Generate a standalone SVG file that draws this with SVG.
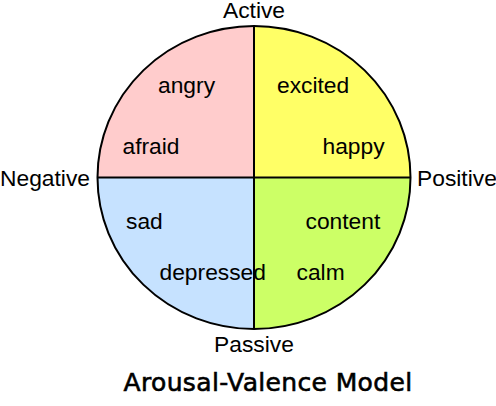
<svg xmlns="http://www.w3.org/2000/svg" width="496" height="406" viewBox="0 0 496 406">
<style>
.q{stroke:none}
.lbl{font-family:"Liberation Sans",Arial,sans-serif;font-size:22.8px;fill:#000}
.mid{text-anchor:middle}
.title{font-family:"DejaVu Sans",sans-serif;font-size:25px;fill:#000;stroke:#000;stroke-width:0.6;letter-spacing:0.35px}
.ax{stroke:#000;stroke-width:2;fill:none}
</style>
<rect width="496" height="406" fill="#fff"/>
<g id="quadrants">
<path id="q-angry" class="q" fill="#FFCCCC" d="M254,177.5 V26 A156.5,151.5 0 0 0 97.5,177.5 Z"/>
<path id="q-excited" class="q" fill="#FFFF66" d="M254,177.5 V26 A156.5,151.5 0 0 1 410.5,177.5 Z"/>
<path id="q-sad" class="q" fill="#C6E2FF" d="M254,177.5 H97.5 A156.5,151.5 0 0 0 254,329 Z"/>
<path id="q-content" class="q" fill="#CCFF66" d="M254,177.5 H410.5 A156.5,151.5 0 0 1 254,329 Z"/>
</g>
<g id="connectors">
<ellipse class="ax" cx="254" cy="177.5" rx="156.5" ry="151.5"/>
<line class="ax" x1="254" y1="26" x2="254" y2="329"/>
<line class="ax" x1="97.5" y1="177.5" x2="410.5" y2="177.5"/>
</g>
<g id="axis-labels">
<g id="active"><text class="lbl mid" x="254" y="17.5">Active</text></g>
<g id="passive"><text class="lbl mid" x="254" y="352">Passive</text></g>
<g id="negative"><text class="lbl" x="0" y="186">Negative</text></g>
<g id="positive"><text class="lbl" x="417" y="186">Positive</text></g>
</g>
<g id="emotions">
<g id="angry"><text class="lbl" x="158" y="93">angry</text></g>
<g id="excited"><text class="lbl" x="277" y="92.5">excited</text></g>
<g id="afraid"><text class="lbl" x="122.5" y="153.5">afraid</text></g>
<g id="happy"><text class="lbl" x="322.5" y="153.5">happy</text></g>
<g id="sad"><text class="lbl" x="126" y="228.5">sad</text></g>
<g id="content"><text class="lbl" x="305.5" y="228.5">content</text></g>
<g id="depressed"><text class="lbl" x="159.5" y="280">depressed</text></g>
<g id="calm"><text class="lbl" x="296.5" y="280">calm</text></g>
</g>
<g id="title"><text class="title" x="123.5" y="390.7">Arousal-Valence Model</text></g>
</svg>
